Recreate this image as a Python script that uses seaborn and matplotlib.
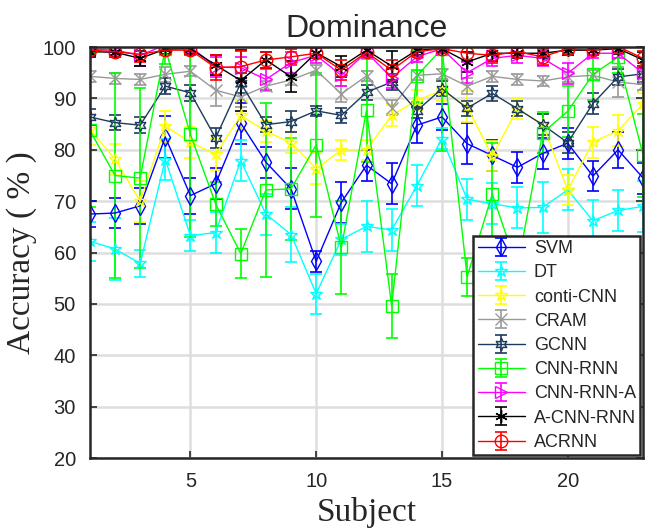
import numpy as np
import matplotlib
matplotlib.use("Agg")
import matplotlib.pyplot as plt
import seaborn as sns

# subjects 1..23
subjects = list(range(1, 24))

methods = ["SVM", "DT", "conti-CNN", "CRAM", "GCNN", "CNN-RNN",
           "CNN-RNN-A", "A-CNN-RNN", "ACRNN"]

svm = [67.5, 67.7, 69.1, 82.5, 71.1, 73.4, 85.2, 77.6, 72.4, 58.3, 69.8, 77.0,
       73.4, 84.8, 86.4, 81.2, 78.9, 76.6, 79.3, 81.3, 74.9, 80.0, 74.5]
svm_err = [2.5, 3, 3.5, 4, 3.5, 3, 4, 3, 4, 2, 4, 3, 4, 3.5, 2.5, 4, 3, 3, 3,
           3, 3, 3.5, 3]

dt = [62.2, 60.7, 57.9, 78.1, 63.3, 63.9, 77.9, 67.5, 63.5, 52.0, 62.6, 65.1,
      64.4, 73.0, 82.2, 70.4, 69.5, 68.7, 68.8, 72.2, 66.2, 68.2, 69.0]
dt_err = [3.8, 6, 2.6, 4, 3, 4, 4, 4, 5.3, 3.9, 3, 5, 4, 4, 2, 4, 4, 4, 5, 4,
          4, 4, 5]

conti = [84.0, 78.2, 70.0, 84.6, 81.5, 79.1, 86.7, 83.6, 81.4, 76.3, 80.0, 80.0,
         86.7, 89.6, 91.6, 88.4, 78.8, 88.0, 85.0, 72.2, 81.5, 83.7, 89.0]
conti_err = [3, 3, 4, 3, 3, 3, 3, 2, 2, 3, 2, 2, 2, 2, 2, 3, 3, 2, 2, 3, 3,
             3, 2]

cram = [94.3, 93.9, 93.7, 94.7, 95.3, 91.6, 90.3, 92.4, 93.6, 95.5, 90.9, 94.4,
        88.2, 94.5, 94.8, 92.4, 94.3, 93.7, 93.4, 94.2, 94.5, 93.2, 92.7]
cram_err = [1, 1, 1, 1.5, 1, 3, 2, 1, 1, 1, 1.5, 1, 1.5, 1, 1, 1.5, 1, 1, 1,
            1, 1, 3, 1]

gcnn = [86.4, 85.3, 84.8, 92.4, 91.1, 82.3, 93.0, 84.9, 85.5, 87.6, 86.7, 91.2,
        93.2, 87.6, 91.9, 88.1, 91.0, 88.0, 84.9, 81.4, 89.0, 94.2, 94.8]
gcnn_err = [1.5, 1.5, 1.5, 1.5, 1.5, 2, 2, 1.5, 2, 1, 1.5, 1.5, 1.5, 1.5, 1.5,
            1.5, 1.5, 1.5, 2, 2, 2, 1.5, 1.5]

cnn_rnn = [83.8, 75.0, 74.5, 99.7, 83.0, 69.5, 59.8, 72.2, 72.4, 81.0, 61.0,
           87.7, 49.6, 94.4, 99.7, 55.3, 71.4, 57.0, 83.3, 87.5, 94.7, 98.0, 78.9]
cnn_rnn_err = [15, 20, 17.5, 3, 20, 4.3, 4.7, 17, 10, 14, 9, 10, 6.3, 5, 20,
               3.7, 10, 5, 4, 5, 5, 3, 8]

cnn_rnn_a = [99.6, 99.4, 98.4, 100.4, 100.1, 96.1, 96.0, 93.7, 97.0, 98.4, 94.5,
             99.0, 94.0, 98.1, 99.7, 95.0, 97.8, 98.4, 97.8, 94.9, 98.8, 98.8, 94.9]
cnn_rnn_a_err = [1, 1, 2, 1, 1, 2, 2, 2, 2, 1.5, 2, 1, 2, 1, 0.8, 2, 1.5, 1.5,
                 1.5, 2, 1, 1, 2]

a_cnn_rnn = [99.1, 99.0, 97.8, 99.6, 99.7, 96.5, 93.5, 97.5, 94.2, 98.9, 96.2,
             99.4, 96.3, 99.4, 99.7, 97.1, 98.8, 98.8, 98.8, 99.4, 99.4, 99.7, 97.5]
a_cnn_rnn_err = [1, 1, 1.5, 1, 1, 2, 6, 1.5, 3, 1, 2, 1, 3, 1, 0.8, 2, 1.5, 1,
                 1, 1, 1, 1, 1.5]

acrnn = [99.4, 99.1, 98.6, 99.4, 99.4, 96.0, 96.2, 97.5, 98.1, 98.8, 95.5, 99.0,
         95.5, 99.1, 99.7, 98.8, 98.4, 99.1, 98.1, 99.7, 99.4, 100.1, 97.8]
acrnn_err = [1, 1, 1.5, 1, 1, 2.5, 3, 1.5, 1.5, 1, 2, 1, 2, 1, 0.8, 1.5, 1.5,
             1, 1.5, 1, 1, 1, 1.5]

series = [svm, dt, conti, cram, gcnn, cnn_rnn, cnn_rnn_a, a_cnn_rnn, acrnn]
errors = [svm_err, dt_err, conti_err, cram_err, gcnn_err, cnn_rnn_err,
          cnn_rnn_a_err, a_cnn_rnn_err, acrnn_err]

colors = ["#0000ff", "#00ffff", "#ffff00", "#999999", "#1c3b5c", "#00ff00",
          "#ff00ff", "#000000", "#ff0000"]
markers = ["d", "*", "*", "x", (6, 1, 0), "s", ">", (6, 2, 0), "o"]

sns.set_style("whitegrid")
plt.rcParams["font.family"] = ["Liberation Sans", "DejaVu Sans"]

fig = plt.figure(figsize=(6.51, 5.29), dpi=100)
ax = fig.add_axes([0.138, 0.134, 0.850, 0.777])

for name, vals, err, col, mk in zip(methods, series, errors, colors, markers):
    ax.errorbar(subjects, vals, yerr=err, color=col, marker=mk,
                markerfacecolor="none", markeredgecolor=col, markersize=9,
                linewidth=1.0, elinewidth=1.2, capsize=4.5, capthick=1.2,
                label=name)

ax.set_xlim(1, 23)
ax.set_ylim(20, 100)
ax.set_xticks([5, 10, 15, 20])
ax.set_yticks(np.arange(20, 101, 10))
ax.grid(True, color="#dedede", linewidth=1.8)
ax.tick_params(direction="in", length=5, width=1.2, labelsize=14.5,
               colors="#262626", top=True, right=True, left=True, bottom=True,
               labelcolor="#262626", pad=10)
for s in ax.spines.values():
    s.set_visible(True)
    s.set_color("#262626")
    s.set_linewidth(1.8)

ax.set_title("Dominance", fontsize=23, pad=7)
ax.set_xlabel("Subject", fontsize=24, family=["Liberation Serif"], labelpad=4)
ax.set_ylabel("Accuracy ( % )", fontsize=24, family=["Liberation Serif"],
              labelpad=4)

leg = ax.legend(loc="lower right", fontsize=13, frameon=True, fancybox=False,
                borderaxespad=0.15, handlelength=2.6, labelspacing=0.4,
                borderpad=0.25, handletextpad=0.5)
leg.get_frame().set_edgecolor("#262626")
leg.get_frame().set_linewidth(1.8)
leg.get_frame().set_alpha(1.0)

fig.savefig("out.png", dpi=100)
